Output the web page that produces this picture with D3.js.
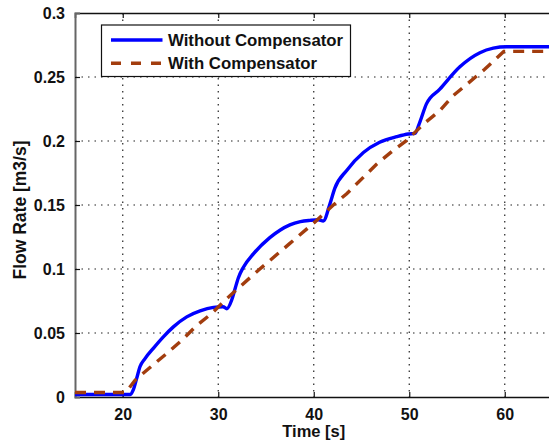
<!DOCTYPE html>
<html>
<head>
<meta charset="utf-8">
<script src="https://cdn.jsdelivr.net/npm/d3@7"></script>
<style>
  html, body { margin: 0; padding: 0; background: #fff; }
  svg { display: block; font-family: "Liberation Sans", Arial, sans-serif; font-weight: bold; }
</style>
</head>
<body>
<svg id="chart" width="549" height="441"></svg>
<script>
// Flow rate response, without vs. with compensator
const timeWithout = [15, 20.8, 21.1, 21.46, 21.8, 22.33, 23.2, 24.25, 25.3, 26.7, 28.1, 29.5, 30.5, 30.9, 31.4, 31.7, 32.1, 32.6, 33.7, 35.4, 36.5, 37.5, 38.6, 39.6, 40.5, 41.0, 41.7, 42.2, 43.45, 45.2, 46.9, 48.7, 49.9, 50.6, 51.1, 51.8, 53.2, 55.3, 57.4, 58.8, 60.2, 65];
const flowWithout = [0.002, 0.002, 0.0055, 0.0146, 0.0236, 0.030, 0.038, 0.047, 0.0548, 0.0626, 0.0673, 0.070, 0.0705, 0.069, 0.0756, 0.083, 0.093, 0.101, 0.112, 0.1245, 0.1305, 0.1345, 0.137, 0.138, 0.1385, 0.1375, 0.151, 0.163, 0.177, 0.191, 0.199, 0.2034, 0.2055, 0.206, 0.2146, 0.229, 0.2405, 0.258, 0.269, 0.2725, 0.2736, 0.2736];

const timeWith = [15, 20.3, 21.3, 22.85, 24.6, 26.2, 27.7, 29.3, 31.2, 34.2, 37.5, 40.1, 42.05, 43.45, 46.6, 48.3, 49.7, 51.5, 53.2, 54.6, 57.9, 59.9, 65];
const flowWith = [0.0035, 0.0035, 0.0132, 0.023, 0.034, 0.0444, 0.0556, 0.0652, 0.079, 0.099, 0.120, 0.1366, 0.150, 0.1588, 0.182, 0.1925, 0.2003, 0.2133, 0.2237, 0.2354, 0.256, 0.270, 0.270];

const xTicks = [20, 30, 40, 50, 60];
const yTicks = [0, 0.05, 0.1, 0.15, 0.2, 0.25, 0.3];
const yTickLabels = ["0", "0.05", "0.1", "0.15", "0.2", "0.25", "0.3"];
const seriesNames = ["Without Compensator", "With Compensator"];

const svg = d3.select("#chart");
const plot = { left: 75, right: 552.5, top: 13, bottom: 397 };

const x = d3.scaleLinear().domain([15, 65]).range([plot.left, plot.right]);
const y = d3.scaleLinear().domain([0, 0.3]).range([plot.bottom, plot.top]);

// Dotted grid
const grid = svg.append("g").attr("stroke", "#222").attr("stroke-width", 1.2)
  .attr("stroke-dasharray", "1.5,5");
grid.selectAll("line.vx").data(xTicks).join("line")
  .attr("x1", d => x(d)).attr("x2", d => x(d))
  .attr("y1", plot.top).attr("y2", plot.bottom);
grid.selectAll("line.hy").data(yTicks.filter(d => d > 0 && d < 0.3)).join("line")
  .attr("x1", plot.left).attr("x2", plot.right)
  .attr("y1", d => y(d)).attr("y2", d => y(d));

// Axes
const xAxis = d3.axisBottom(x).tickValues(xTicks).tickSize(-5).tickPadding(12).tickFormat(d3.format("d"));
const gx = svg.append("g").attr("transform", `translate(0,${plot.bottom})`).call(xAxis);
const xTop = d3.axisTop(x).tickValues(xTicks).tickSize(-5).tickFormat("");
const gxt = svg.append("g").attr("transform", `translate(0,${plot.top})`).call(xTop);
const yAxis = d3.axisLeft(y).tickValues(yTicks).tickSize(-5).tickPadding(10)
  .tickFormat((d, i) => yTickLabels[i]);
const gy = svg.append("g").attr("transform", `translate(${plot.left},0)`).call(yAxis);

[gx, gxt, gy].forEach(g => {
  g.select(".domain").attr("stroke", "#111").attr("stroke-width", 1.5);
  g.selectAll(".tick line").attr("stroke", "#111").attr("stroke-width", 1.2);
  g.selectAll("text").attr("fill", "#111").attr("font-size", 16)
    .attr("font-weight", "bold").attr("font-family", "Liberation Sans, Arial, sans-serif");
});
gy.select(".domain").attr("stroke", "#666").attr("stroke-width", 2);
gy.selectAll(".tick:first-of-type line, .tick:last-of-type line").remove();

// Series lines
const line = d3.line().x(d => x(d[0])).y(d => y(d[1]));
const dataWithout = d3.zip(timeWithout, flowWithout);
const dataWith = d3.zip(timeWith, flowWith);

svg.append("path").datum(dataWithout)
  .attr("d", line.curve(d3.curveMonotoneX))
  .attr("fill", "none").attr("stroke", "#0000ff").attr("stroke-width", 3.4)
  .attr("stroke-linejoin", "round");

svg.append("path").datum(dataWith)
  .attr("d", line.curve(d3.curveLinear))
  .attr("fill", "none").attr("stroke", "#a23d0e").attr("stroke-width", 3.4)
  .attr("stroke-dasharray", "11,8");

// Axis titles
svg.append("text").attr("x", x(40)).attr("y", 437).attr("text-anchor", "middle")
  .attr("font-size", 16.5).attr("fill", "#111").text("Time [s]");
svg.append("text").attr("transform", "translate(26,210) rotate(-90)")
  .attr("text-anchor", "middle").attr("font-size", 17.5).attr("fill", "#111")
  .text("Flow Rate [m3/s]");

// Legend
const legend = svg.append("g");
legend.append("rect").attr("x", 101.5).attr("y", 25).attr("width", 249).attr("height", 51.5)
  .attr("fill", "#fff").attr("stroke", "#111").attr("stroke-width", 1.2);
const legendRows = [
  { name: seriesNames[0], color: "#0000ff", dash: null, cy: 40 },
  { name: seriesNames[1], color: "#a23d0e", dash: "10,10", cy: 63.3 }
];
legendRows.forEach(r => {
  legend.append("line").attr("x1", 111).attr("x2", 162.5).attr("y1", r.cy).attr("y2", r.cy)
    .attr("stroke", r.color).attr("stroke-width", 3.6).attr("stroke-dasharray", r.dash);
  legend.append("text").attr("x", 168).attr("y", r.cy + 6).attr("font-size", 16.8)
    .attr("fill", "#111").text(r.name);
});
</script>
</body>
</html>
